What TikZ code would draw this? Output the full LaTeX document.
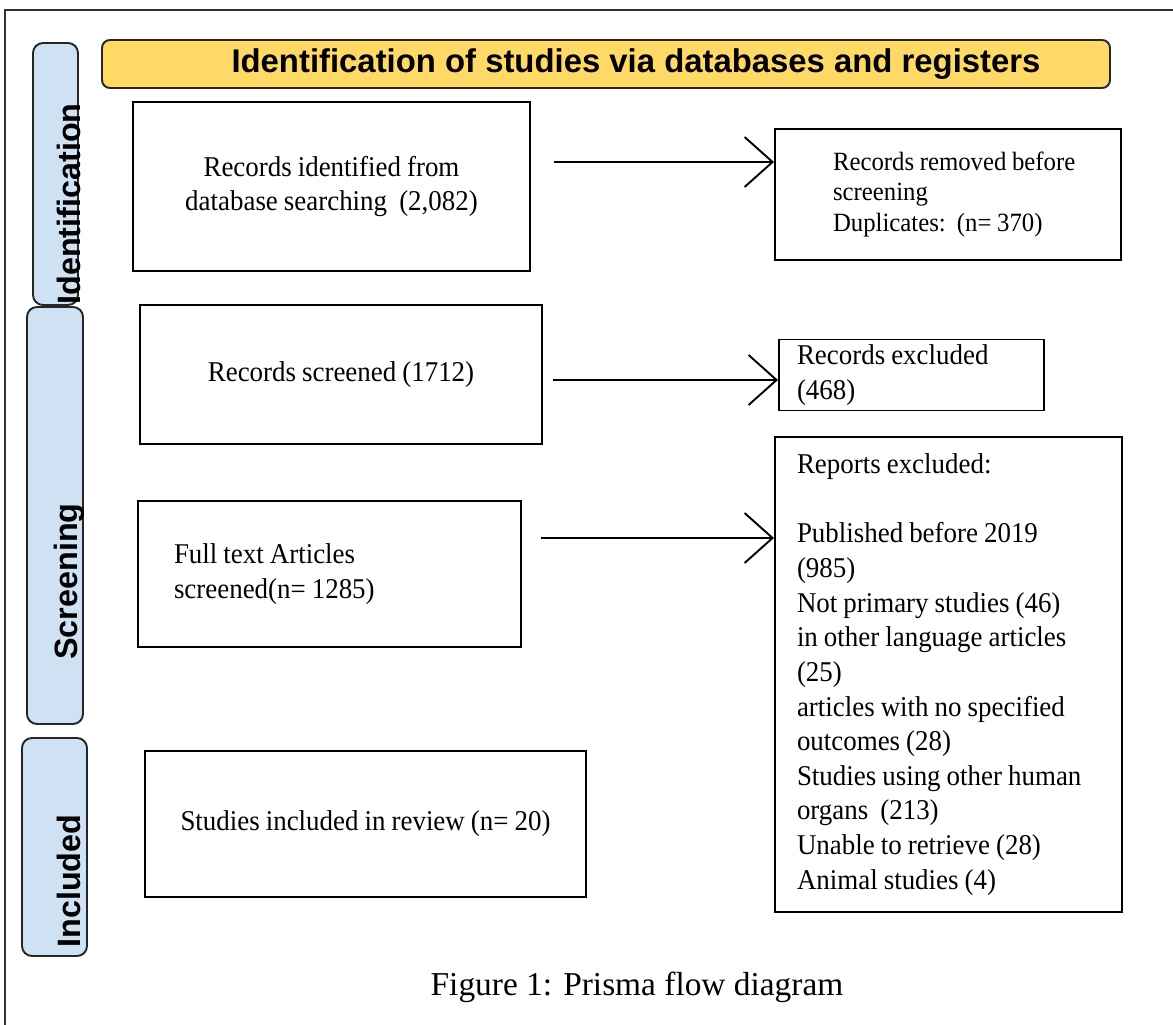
\documentclass[tikz,border=0pt]{standalone}
\usepackage{fontspec}
\setmainfont{Liberation Serif}[FakeStretch=0.94, WordSpace=0.9]
\newfontfamily\capfont{Liberation Serif}
\setsansfont{Liberation Sans}
\usetikzlibrary{arrows.meta, positioning}
\definecolor{headyellow}{RGB}{255, 217, 102}
\definecolor{barblue}{RGB}{207, 226, 243}

\begin{document}
\begin{tikzpicture}[
    box/.style={rectangle, draw, line width=1.1pt, align=center, inner sep=2pt, font=\fontsize{16.3}{19.7}\selectfont},
    bar/.style={rectangle, rounded corners=0.2cm, draw=black!85, line width=1.1pt, fill=barblue},
    bartxt/.style={rotate=90, anchor=base west, inner sep=0pt, font=\sffamily\bfseries\fontsize{18.4}{22}\selectfont},
    arr/.style={-{Straight Barb[length=0.56cm, width=1cm]}, line width=1.1pt}
]
\useasboundingbox (0,0) rectangle (23.46,-20.5);

% Frame
\draw[line width=0.8pt, black!80] (23.46,-0.2) -- (0.1,-0.2) -- (0.1,-20.5);

% Title bar
\node[draw=black!85, line width=1.1pt, fill=headyellow, rounded corners=0.16cm, minimum width=20.16cm, minimum height=0.96cm, font=\sffamily\bfseries\fontsize{18.7}{22}\selectfont] (head) at (12.12,-1.28) {\hspace*{1.2cm}Identification of studies via databases and registers};

% Side bars
\node[bar, minimum width=0.9cm, minimum height=5.24cm] (idbar) at (1.11,-3.48) {};
\node[bar, minimum width=1.12cm, minimum height=8.34cm] (scrbar) at (1.1,-10.31) {};
\node[bar, minimum width=1.3cm, minimum height=4.36cm] (incbar) at (1.09,-16.94) {};
\node[bartxt] (idtxt) at (1.6,-6.1) {Identification};
\node[bartxt] (scrtxt) at (1.54,-13.2) {Screening};
\node[bartxt] (inctxt) at (1.6,-18.96) {Included};

% Left column
\node[box, minimum width=7.94cm, minimum height=3.38cm] (ident) at (6.63,-3.73) {Records identified from\\database searching~~(2,082)};
\node[box, minimum width=8.04cm, minimum height=2.78cm] (screened) at (6.82,-7.49) {Records screened (1712)};
\node[box, align=flush left, text width=6.22cm, inner xsep=0.72cm, minimum width=7.66cm, minimum height=2.92cm] (fulltext) at (6.59,-11.48) {Full text Articles\\screened(n= 1285)};
\node[box, minimum width=8.82cm, minimum height=2.92cm] (included) at (7.31,-16.48) {Studies included in review (n= 20)};

% Right column
\node[box, align=flush left, text width=6.52cm, inner xsep=0.2cm, minimum width=6.92cm, minimum height=2.62cm, font=\fontsize{15}{17.6}\selectfont] (removed) at (18.96,-3.89) {\leftskip=0.96cm Records removed before\\screening\\Duplicates:~~(n= 370)\par};
\node[box, align=flush left, text width=4.58cm, inner xsep=0.36cm, minimum width=5.3cm, minimum height=1.42cm] (excluded) at (18.23,-7.5) {Records excluded\\(468)};
\node[box, align=flush left, text width=6.06cm, inner xsep=0.44cm, minimum width=6.94cm, minimum height=9.5cm] (reports) at (18.97,-13.49) {Reports excluded:\\[19.7pt]
    Published before 2019\\(985)\\Not primary studies (46)\\in other language articles\\(25)\\articles with no specified\\outcomes (28)\\Studies using other human\\organs~~(213)\\Unable to retrieve (28)\\Animal studies (4)};

% Arrows
\draw[arr] ([xshift=0.46cm, yshift=0.49cm]ident.east) coordinate (a1) -- (a1 -| removed.west);
\draw[arr] ([xshift=0.2cm, yshift=-0.11cm]screened.east) coordinate (a2) -- (a2 -| excluded.west);
\draw[arr] ([xshift=0.38cm, yshift=0.72cm]fulltext.east) coordinate (a3) -- (a3 -| reports.west);

% Caption
\node[font=\capfont\fontsize{19}{23}\selectfont] (caption) at (12.74,-19.74) {Figure 1: Prisma flow diagram};
\end{tikzpicture}
\end{document}
